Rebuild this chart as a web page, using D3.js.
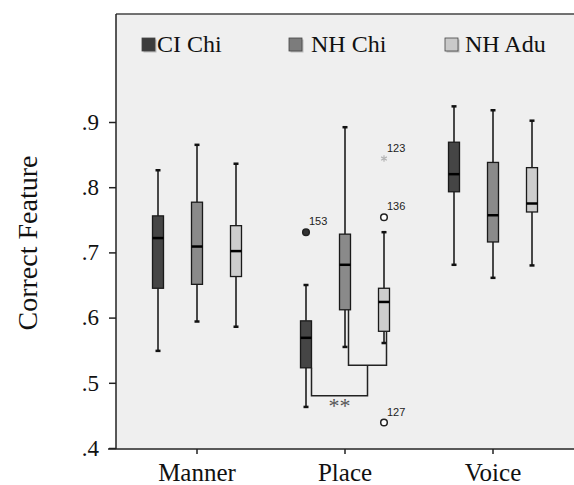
<!DOCTYPE html>
<html><head><meta charset="utf-8">
<script src="https://cdn.jsdelivr.net/npm/d3@7"></script>
<style>html,body{margin:0;padding:0;background:#fff;}</style>
</head><body>
<svg id="c" width="574" height="485"></svg>
<script>
const categories = ["Manner", "Place", "Voice"];
const seriesNames = ["CI Chi", "NH Chi", "NH Adu"];
const seriesColors = ["#454545", "#8a8a8a", "#cdcdcd"];
const legendColors = ["#3c3c3c", "#7c7c7c", "#c9c9c9"];
// [min, q1, median, q3, max] per category per series
const ciChi = [[0.549, 0.645, 0.722, 0.756, 0.826], [0.463, 0.523, 0.569, 0.595, 0.650], [0.681, 0.793, 0.820, 0.869, 0.924]];
const nhChi = [[0.594, 0.651, 0.709, 0.777, 0.865], [0.555, 0.612, 0.681, 0.728, 0.892], [0.661, 0.716, 0.757, 0.838, 0.918]];
const nhAdu = [[0.586, 0.663, 0.702, 0.741, 0.836], [0.561, 0.579, 0.624, 0.645, 0.731], [0.680, 0.762, 0.775, 0.830, 0.902]];
// outliers: category, series index, value, label, type
const outliers = [
  {cat: "Place", s: 0, v: 0.731, label: "153", type: "filled"},
  {cat: "Place", s: 2, v: 0.844, label: "123", type: "star"},
  {cat: "Place", s: 2, v: 0.754, label: "136", type: "open"},
  {cat: "Place", s: 2, v: 0.439, label: "127", type: "open"}
];
const yTicks = [0.4, 0.5, 0.6, 0.7, 0.8, 0.9];
const bracketLevels = [0.527, 0.480];
const sigLabel = "**";
const yTitle = "Correct Feature";

const allSeries = [ciChi, nhChi, nhAdu];
const svg = d3.select("#c");
const pLeft = 116, pTop = 14, pRight = 574, pBottom = 448;
const y = d3.scaleLinear().domain([0.4, 0.9]).range([448, 122]);
const x = d3.scaleBand().domain(categories).range([123, 567]).padding(0);
const xs = d3.scalePoint().domain(d3.range(seriesNames.length)).range([-39, 39]);
const cx = (cat, s) => x(cat) + x.bandwidth() / 2 + xs(s);
const boxW = 11;
const serif = "'Liberation Serif','Times New Roman',serif";
const sans = "'Liberation Sans',Arial,sans-serif";

// background
svg.append("rect").attr("x", pLeft).attr("y", pTop).attr("width", pRight - pLeft).attr("height", pBottom - pTop).attr("fill", "#efefef");
svg.append("line").attr("x1", pLeft).attr("x2", pRight).attr("y1", pTop).attr("y2", pTop).attr("stroke", "#444").attr("stroke-width", 1.5);

// y axis
const ya = svg.append("g").attr("transform", `translate(${pLeft},0)`)
  .call(d3.axisLeft(y).tickValues(yTicks).tickSize(7).tickFormat(d => d3.format(".1f")(d).replace(/^0/, "")));
ya.select(".domain").attr("d", `M0,${pTop}V${pBottom + 1}`).attr("stroke", "#222").attr("stroke-width", 1.5);
ya.selectAll(".tick line").attr("stroke", "#222").attr("stroke-width", 1.5);
ya.selectAll(".tick text").attr("font-family", serif).attr("font-size", 23).attr("fill", "#111").attr("x", -17);

// x axis
const xa = svg.append("g").attr("transform", `translate(0,${pBottom + 1})`)
  .call(d3.axisBottom(x).tickSize(5));
xa.select(".domain").attr("d", `M108,0H${pRight}`).attr("stroke", "#222").attr("stroke-width", 1.5);
xa.selectAll(".tick line").attr("stroke", "#222").attr("stroke-width", 1.5);
xa.selectAll(".tick text").attr("font-family", serif).attr("font-size", 25).attr("fill", "#111").attr("y", 14).attr("dy", "0.71em");

// y title
svg.append("text").attr("transform", `translate(37,243) rotate(-90)`).attr("text-anchor", "middle")
  .attr("font-family", serif).attr("font-size", 28).attr("fill", "#111").text(yTitle);

// boxes
allSeries.forEach((ser, si) => {
  categories.forEach((cat, ci) => {
    const [mn, q1, md, q3, mx] = ser[ci];
    const c = cx(cat, si);
    const g = svg.append("g");
    g.append("line").attr("x1", c).attr("x2", c).attr("y1", y(mx)).attr("y2", y(q3)).attr("stroke", "#111").attr("stroke-width", 1.5);
    g.append("line").attr("x1", c).attr("x2", c).attr("y1", y(q1)).attr("y2", y(mn)).attr("stroke", "#111").attr("stroke-width", 1.5);
    [mn, mx].forEach(v => g.append("line").attr("x1", c - 2.5).attr("x2", c + 2.5).attr("y1", y(v)).attr("y2", y(v)).attr("stroke", "#111").attr("stroke-width", 2.5));
    g.append("rect").attr("x", c - boxW / 2).attr("y", y(q3)).attr("width", boxW).attr("height", y(q1) - y(q3))
      .attr("fill", seriesColors[si]).attr("stroke", "#1a1a1a").attr("stroke-width", 1.3);
    g.append("line").attr("x1", c - boxW / 2).attr("x2", c + boxW / 2).attr("y1", y(md)).attr("y2", y(md)).attr("stroke", "#000").attr("stroke-width", 2.5);
  });
});

// significance bracket (Place)
const pc = "Place";
const xCI = cx(pc, 0) + boxW / 2, xNC = cx(pc, 1) + 3.5, xNA = cx(pc, 2) + 2.5;
const xMid = (xNC + xNA) / 2;
const bp = d3.path();
bp.moveTo(xNC, y(nhChi[1][1])); bp.lineTo(xNC, y(bracketLevels[0])); bp.lineTo(xNA, y(bracketLevels[0])); bp.lineTo(xNA, y(nhAdu[1][1]));
bp.moveTo(xMid, y(bracketLevels[0])); bp.lineTo(xMid, y(bracketLevels[1])); bp.lineTo(xCI, y(bracketLevels[1])); bp.lineTo(xCI, y(ciChi[1][1]));
svg.append("path").attr("d", bp.toString()).attr("fill", "none").attr("stroke", "#222").attr("stroke-width", 1.5);
svg.append("text").attr("x", (xCI + xMid) / 2).attr("y", y(bracketLevels[1]) + 17).attr("text-anchor", "middle")
  .attr("font-family", serif).attr("font-size", 22).attr("fill", "#555").text(sigLabel);

// outliers
outliers.forEach(o => {
  const px = cx(o.cat, o.s), py = y(o.v);
  if (o.type === "star") {
    svg.append("path").attr("transform", `translate(${px},${py})`)
      .attr("d", d3.symbol().type(d3.symbolAsterisk || d3.symbolCross).size(30)())
      .attr("fill", "none").attr("stroke", "#b5b5b5").attr("stroke-width", 1.2);
  } else {
    svg.append("circle").attr("cx", px).attr("cy", py).attr("r", 3.3)
      .attr("fill", o.type === "filled" ? "#333" : "#fff").attr("stroke", "#222").attr("stroke-width", 1.5);
  }
  svg.append("text").attr("x", px + 3).attr("y", py - 7).attr("font-family", sans).attr("font-size", 11).attr("fill", "#222").text(o.label);
});

// legend
const legX = [142, 289, 445], legTX = [157, 311, 465];
seriesNames.forEach((n, i) => {
  svg.append("rect").attr("x", legX[i] + 1.5).attr("y", 39.5).attr("width", 13).attr("height", 13).attr("fill", "#999").attr("opacity", 0.6);
  svg.append("rect").attr("x", legX[i]).attr("y", 38).attr("width", 13).attr("height", 13).attr("fill", legendColors[i]).attr("stroke", "#444").attr("stroke-width", 0.8);
  svg.append("text").attr("x", legTX[i]).attr("y", 52).attr("font-family", serif).attr("font-size", 24).attr("fill", "#111").text(n);
});
</script>
</body></html>
